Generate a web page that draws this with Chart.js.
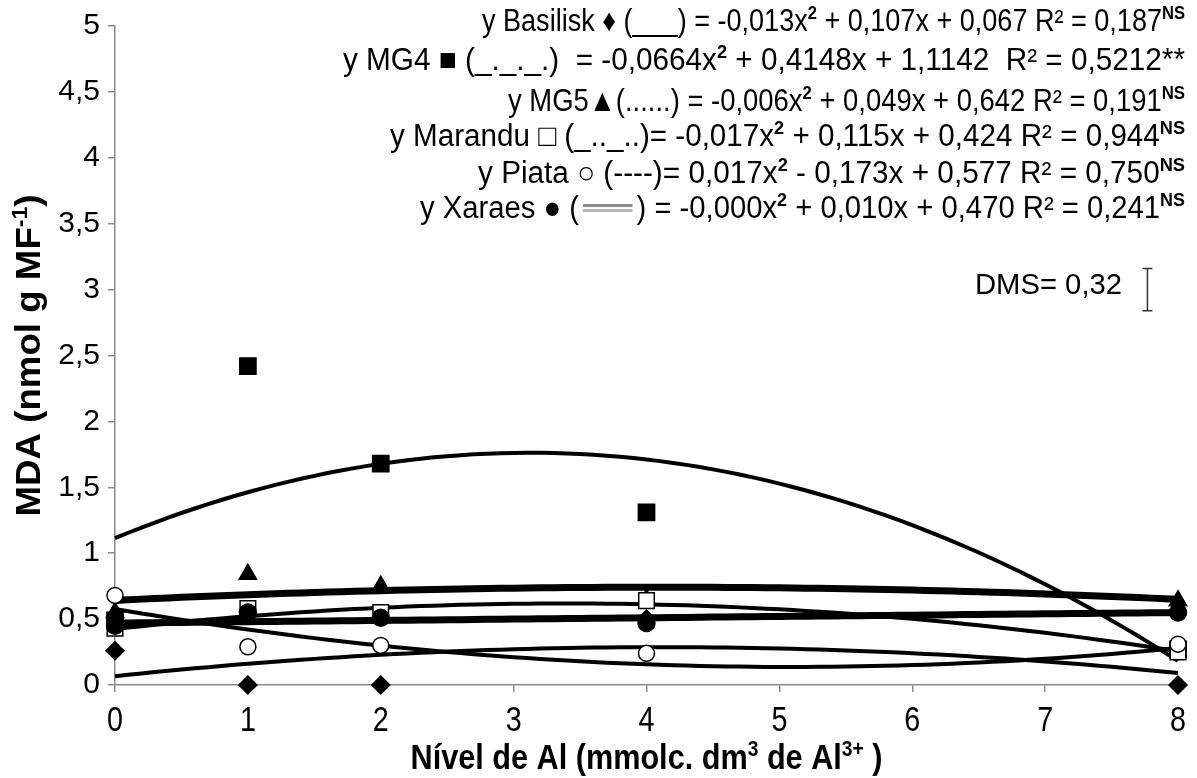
<!DOCTYPE html>
<html>
<head>
<meta charset="utf-8">
<script src="https://cdn.jsdelivr.net/npm/chart.js@4.4.1/dist/chart.umd.min.js"></script>
<style>
  body { margin: 0; background: #fff; }
  #wrap { width: 1197px; height: 778px; }
</style>
</head>
<body>
<div id="wrap"><canvas id="mdaChart" width="1197" height="778"></canvas></div>
<script>
// Al levels in the nutrient solution
var alLevels = [0, 1, 2, 4, 8];

// MDA means per cultivar (nmol g MF-1)
var basilisk = [0.26, 0, 0, 0.5, 0];
var mg4 = [0.49, 2.42, 1.68, 1.31, 0.27];
var mg5 = [0.55, 0.84, 0.75, 0.65, 0.64];
var marandu = [0.43, 0.58, 0.55, 0.64, 0.25];
var piata = [0.68, 0.29, 0.30, 0.24, 0.31];
var xaraes = [0.45, 0.55, 0.51, 0.47, 0.55];

// quadratic fits, [a, b, c] for y = a x^2 + b x + c
var fitBasilisk = [-0.013, 0.107, 0.067];
var fitMg4 = [-0.0664, 0.4148, 1.1142];
var fitMg5 = [-0.006, 0.049, 0.642];
var fitMarandu = [-0.017, 0.115, 0.424];
var fitPiata = [0.017, -0.173, 0.577];
var fitXaraes = [-0.000, 0.010, 0.470];

var dms = 0.32;

var BASE = 'Liberation Sans';

// is a narrow face installed? otherwise squeeze the regular one
var hasNarrow = (function() {
	var c = document.createElement('canvas').getContext('2d');
	c.font = '40px monospace';
	var a = c.measureText('abcdefghiMW').width;
	c.font = '40px "Liberation Sans Narrow", monospace';
	return c.measureText('abcdefghiMW').width !== a;
})();

var fontFor = function(size, bold, narrow) {
	var fam = (narrow && hasNarrow) ? '"Liberation Sans Narrow"' : '"' + BASE + '"';
	return (bold ? 'bold ' : '') + size + 'px ' + fam;
};

var curve = function(coef) {
	var pts = [];
	for (var i = 0; i <= 80; i++) {
		var x = i / 10;
		pts.push({ x: x, y: coef[0] * x * x + coef[1] * x + coef[2] });
	}
	return pts;
};

var points = function(vals) {
	return alLevels.map(function(x, i) {
		return { x: x, y: vals[i] };
	});
};

// draws a run of text parts, superscripts raised and smaller
// part: { t: text, sup: bool, bold: bool, gap: px (blank space with a swatch) }
// o: { size, narrow, align, width (optional: stretch the run to this width) }
var drawRich = function(ctx, parts, x, y, o) {
	var size = o.size;
	var sx = (o.narrow && !hasNarrow) ? 0.82 : 1;
	var widths = parts.map(function(p) {
		if (p.gap) return p.gap;
		ctx.font = fontFor(p.sup ? Math.round(size * 0.62) : size, p.bold, o.narrow);
		return ctx.measureText(p.t).width * sx;
	});
	var total = widths.reduce(function(a, b) { return a + b; }, 0);
	var k = o.width ? o.width / total : 1;
	widths = widths.map(function(w) { return w * k; });
	total *= k;
	var cx = o.align === 'right' ? x - total : (o.align === 'center' ? x - total / 2 : x);
	parts.forEach(function(p, i) {
		if (p.gap) {
			ctx.save();
			ctx.lineWidth = 3;
			ctx.strokeStyle = '#8c8c8c';
			ctx.beginPath();
			ctx.moveTo(cx + 4, y - size * 0.40);
			ctx.lineTo(cx + widths[i] - 4, y - size * 0.40);
			ctx.stroke();
			ctx.strokeStyle = '#b4b4b4';
			ctx.beginPath();
			ctx.moveTo(cx + 4, y - size * 0.24);
			ctx.lineTo(cx + widths[i] - 4, y - size * 0.24);
			ctx.stroke();
			ctx.restore();
		} else {
			ctx.save();
			ctx.font = fontFor(p.sup ? Math.round(size * 0.62) : size, p.bold, o.narrow);
			ctx.translate(cx, p.sup ? y - size * 0.38 : y);
			ctx.scale(sx * k, 1);
			ctx.fillStyle = '#000';
			ctx.textAlign = 'left';
			ctx.textBaseline = 'alphabetic';
			ctx.fillText(p.t, 0, 0);
			ctx.restore();
		}
		cx += widths[i];
	});
};

var fitLines = [
	[{ t: 'y Basilisk \u2666 (___) = -0,013x' }, { t: '2', sup: true, bold: true }, { t: ' + 0,107x + 0,067 R\u00b2 = 0,187' }, { t: 'NS', sup: true, bold: true }],
	[{ t: 'y MG4 \u25a0 (_._._.)  = -0,0664x' }, { t: '2', sup: true, bold: true }, { t: ' + 0,4148x + 1,1142  R\u00b2 = 0,5212**' }],
	[{ t: 'y MG5\u25b2(......) = -0,006x' }, { t: '2', sup: true, bold: true }, { t: ' + 0,049x + 0,642 R\u00b2 = 0,191' }, { t: 'NS', sup: true, bold: true }],
	[{ t: 'y Marandu \u25a1 (_.._..)= -0,017x' }, { t: '2', sup: true, bold: true }, { t: ' + 0,115x + 0,424 R\u00b2 = 0,944' }, { t: 'NS', sup: true, bold: true }],
	[{ t: 'y Piata \u25cb (----)= 0,017x' }, { t: '2', sup: true, bold: true }, { t: ' - 0,173x + 0,577 R\u00b2 = 0,750' }, { t: 'NS', sup: true, bold: true }],
	[{ t: 'y Xaraes \u25cf (' }, { gap: 50 }, { t: ') = -0,000x' }, { t: '2', sup: true, bold: true }, { t: ' + 0,010x + 0,470 R\u00b2 = 0,241' }, { t: 'NS', sup: true, bold: true }]
];
var fitBaselines = [31, 70, 111, 146, 183, 218];
var fitWidths = [703, 842, 677, 795, 707, 765];

var textPlugin = {
	id: 'textPlugin',
	afterDraw: function(chart) {
		var ctx = chart.ctx;
		var xs = chart.scales.x, ys = chart.scales.y;
		var area = chart.chartArea;

		// x tick labels in the narrow face
		xs.ticks.forEach(function(tk) {
			drawRich(ctx, [{ t: String(tk.value) }], xs.getPixelForValue(tk.value), 731, { size: 35, narrow: true, align: 'center' });
		});

		// axis titles
		drawRich(ctx, [{ t: 'N\u00edvel de Al (mmolc. dm', bold: true }, { t: '3', sup: true, bold: true }, { t: ' de Al', bold: true }, { t: '3+', sup: true, bold: true }, { t: ' )', bold: true }],
			(area.left + area.right) / 2, 769, { size: 35, narrow: true, align: 'center', width: 472 });
		ctx.save();
		ctx.translate(40, (area.top + area.bottom) / 2);
		ctx.rotate(-Math.PI / 2);
		drawRich(ctx, [{ t: 'MDA (nmol g MF', bold: true }, { t: '-1', sup: true, bold: true }, { t: ')', bold: true }], 0, 0, { size: 35, narrow: true, align: 'center', width: 322 });
		ctx.restore();

		// regression equations
		fitLines.forEach(function(parts, i) {
			drawRich(ctx, parts, 1185, fitBaselines[i], { size: 31, narrow: true, align: 'right', width: fitWidths[i] });
		});

		// least significant difference bar
		drawRich(ctx, [{ t: 'DMS= 0,32' }], 1122, 294, { size: 29, align: 'right', width: 147 });
		var bx = xs.getPixelForValue(7.77);
		var yTop = ys.getPixelForValue(3 + dms / 2);
		var yBot = ys.getPixelForValue(3 - dms / 2);
		ctx.save();
		ctx.strokeStyle = '#333';
		ctx.lineWidth = 1.5;
		ctx.beginPath();
		ctx.moveTo(bx, yTop); ctx.lineTo(bx, yBot);
		ctx.moveTo(bx - 5, yTop); ctx.lineTo(bx + 5, yTop);
		ctx.moveTo(bx - 5, yBot); ctx.lineTo(bx + 5, yBot);
		ctx.stroke();
		ctx.restore();
	}
};

var markerSet = function(vals, style, filled, radius) {
	return {
		type: 'scatter',
		data: points(vals),
		showLine: false,
		pointStyle: style,
		pointRadius: radius,
		pointBackgroundColor: filled ? '#000' : '#fff',
		pointBorderColor: '#000',
		pointBorderWidth: 1.5,
		clip: false
	};
};

var fitSet = function(coef, width) {
	return {
		type: 'line',
		data: curve(coef),
		borderColor: '#000',
		borderWidth: width,
		pointRadius: 0,
		fill: false,
		tension: 0,
		clip: false
	};
};

new Chart(document.getElementById('mdaChart'), {
	data: {
		datasets: [
			markerSet(basilisk, 'rectRot', true, 9),
			markerSet(piata, 'circle', false, 8),
			markerSet(xaraes, 'circle', true, 8.5),
			markerSet(marandu, 'rect', false, 11),
			markerSet(mg5, 'triangle', true, 10),
			markerSet(mg4, 'rect', true, 11.5),
			fitSet(fitBasilisk, 4),
			fitSet(fitMg4, 4),
			fitSet(fitMarandu, 4),
			fitSet(fitPiata, 4),
			fitSet(fitMg5, 7),
			fitSet(fitXaraes, 7)
		]
	},
	options: {
		responsive: false,
		animation: false,
		layout: { padding: { top: 18, right: 19, left: 0, bottom: 0 } },
		plugins: {
			legend: { display: false },
			tooltip: { enabled: false }
		},
		scales: {
			x: {
				type: 'linear',
				min: 0,
				max: 8,
				ticks: { stepSize: 1, display: false },
				grid: { drawOnChartArea: false, drawTicks: true, tickLength: 7, color: '#8a8a8a', lineWidth: 1.5 },
				border: { color: '#8a8a8a', width: 1.5 },
				afterFit: function(s) { s.height = 93; }
			},
			y: {
				min: 0,
				max: 5,
				ticks: {
					stepSize: 0.5,
					padding: 8,
					color: '#000',
					font: { family: BASE, size: 30 },
					callback: function(v) { return String(v).replace('.', ','); }
				},
				grid: { drawOnChartArea: false, drawTicks: true, tickLength: 7, color: '#8a8a8a', lineWidth: 1.5 },
				border: { color: '#8a8a8a', width: 1.5 },
				afterFit: function(s) { s.width = 115; }
			}
		}
	},
	plugins: [textPlugin]
});
</script>
</body>
</html>
